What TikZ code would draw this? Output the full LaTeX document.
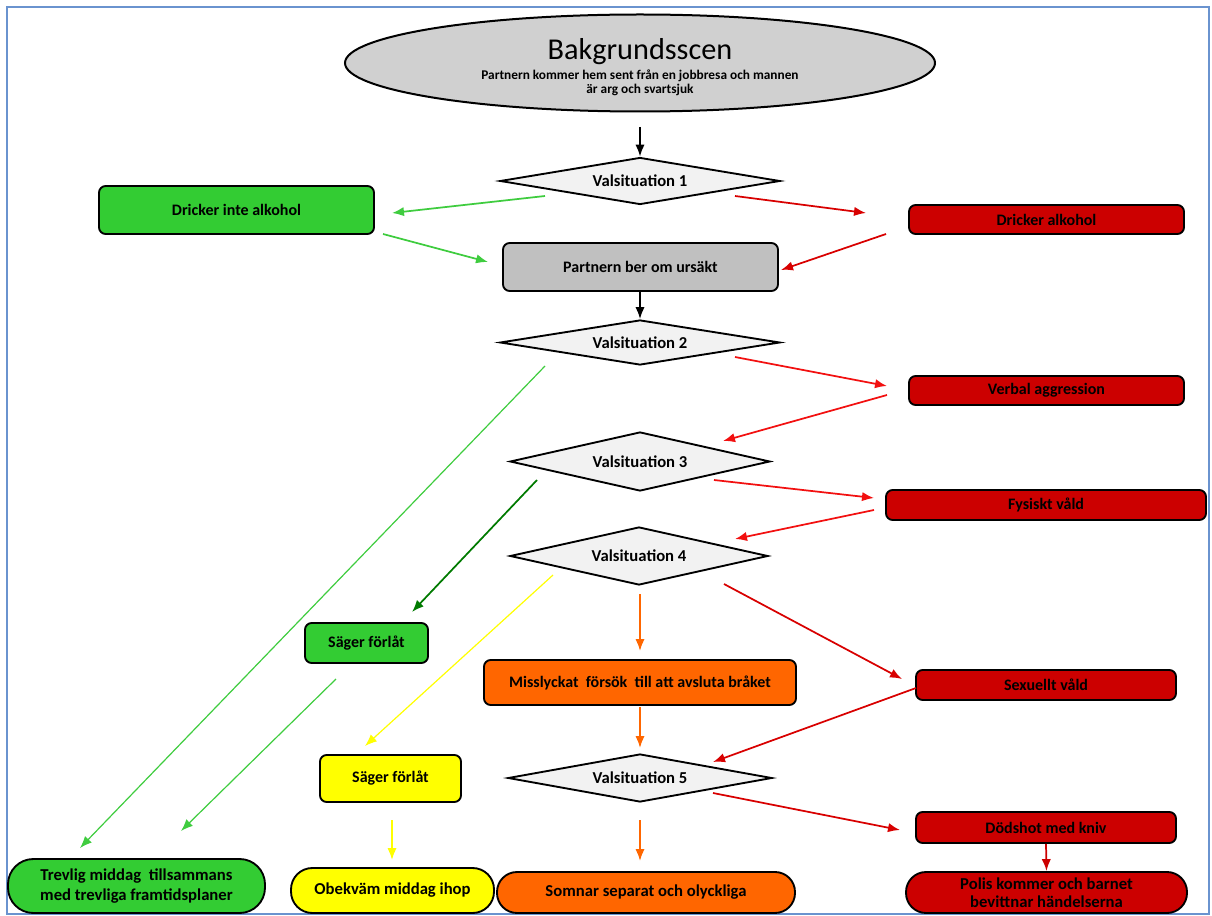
\documentclass[tikz,border=0pt]{standalone}
\usepackage{fontspec}
\setmainfont{Carlito}
\usetikzlibrary{shapes.geometric,arrows.meta}
\definecolor{gr}{HTML}{33CC33}
\definecolor{lgr}{HTML}{3FCC3F}
\definecolor{dgr}{HTML}{007A00}
\definecolor{rd}{HTML}{CC0000}
\definecolor{rda}{HTML}{D80000}
\definecolor{rdb}{HTML}{F21010}
\definecolor{org}{HTML}{FF6600}
\definecolor{yl}{HTML}{FFFF00}
\definecolor{frm}{HTML}{6A93CF}
\definecolor{dia}{HTML}{F2F2F2}
\definecolor{bgc}{HTML}{D0D0D0}
\definecolor{gbox}{HTML}{C0C0C0}
\tikzset{
  lbl/.style={font=\bfseries\fontsize{12}{14.5}\selectfont, align=center, text=black},
  box/.style={lbl, draw=black, line width=1.4pt, rounded corners=5pt, inner sep=0pt},
  dec/.style={lbl, font=\bfseries\fontsize{12.5}{14.5}\selectfont, shape=diamond, aspect=6, draw=black, line width=1.4pt, fill=dia, inner sep=0pt},
  term/.style={lbl, font=\bfseries\fontsize{12.5}{14.8}\selectfont, draw=black, line width=1.4pt, rounded corners=16pt, inner sep=0pt},
  arr/.style={-{Latex[length=9pt,width=7pt]}, line width=1.3pt},
  thin/.style={-{Latex[length=9pt,width=7pt]}, line width=0.9pt},
}
\begin{document}
\begin{tikzpicture}[x=0.75pt,y=-0.75pt]
\useasboundingbox (0,0) rectangle (1212,916);
\draw[frm, line width=1.6pt] (7,7) rectangle (1209,914);

% nodes
\node[ellipse, draw=black, line width=1.5pt, fill=bgc, minimum width=442.5pt, minimum height=72.75pt, inner sep=0pt] (bg) at (640,63) {};
\node[align=center, inner sep=0pt] (bgtext) at (640,67)
  {{\fontsize{22.7}{24}\selectfont Bakgrundsscen}\\[3pt]
   {\bfseries\fontsize{10}{11.3}\selectfont Partnern kommer hem sent från en jobbresa och mannen}\\[-1pt]
   {\bfseries\fontsize{10}{11.3}\selectfont är arg och svartsjuk}};
\node[dec, minimum width=210pt, minimum height=35.25pt] (d1) at (640,181) {Valsituation 1};
\node[box, fill=gr, minimum width=206.25pt, minimum height=36pt] (noalk) at (236.5,210) {Dricker inte alkohol};
\node[box, fill=rd, minimum width=206.25pt, minimum height=21.75pt] (alk) at (1046.5,219.5) {Dricker alkohol};
\node[box, fill=gbox, minimum width=206.25pt, minimum height=36pt] (ursakt) at (640.5,267) {Partnern ber om ursäkt};
\node[dec, minimum width=210pt, minimum height=33.75pt] (d2) at (640,342.5) {Valsituation 2};
\node[box, fill=rd, minimum width=206.25pt, minimum height=21.75pt] (verbal) at (1046.5,390.5) {Verbal aggression};
\node[dec, minimum width=195pt, minimum height=44.25pt] (d3) at (640,461.5) {Valsituation 3};
\node[box, fill=rd, minimum width=240pt, minimum height=22.5pt] (fysiskt) at (1046,505) {Fysiskt våld};
\node[dec, minimum width=193.5pt, minimum height=43.5pt] (d4) at (639,556) {Valsituation 4};
\node[box, fill=gr, minimum width=92.25pt, minimum height=30pt] (sagerg) at (366.5,643) {Säger förlåt};
\node[box, fill=org, minimum width=234pt, minimum height=33.75pt] (missl) at (640,682.5) {Misslyckat\ \ försök\ \ till att avsluta bråket};
\node[box, fill=rd, minimum width=195pt, minimum height=22.5pt] (sexuellt) at (1046,685) {Sexuellt våld};
\node[box, fill=yl, minimum width=105.75pt, minimum height=35.25pt] (sagery) at (390.5,778.5) {Säger förlåt};
\node[dec, minimum width=198pt, minimum height=36pt] (d5) at (640,778) {Valsituation 5};
\node[box, fill=rd, minimum width=195pt, minimum height=23.25pt] (dodshot) at (1046,827.5) {Dödshot med kniv};
\node[term, fill=gr, minimum width=192.75pt, minimum height=40.5pt, rounded corners=19pt] (tgreen) at (136.5,886) {Trevlig middag\ \ tillsammans\\med trevliga framtidsplaner};
\node[term, fill=yl, minimum width=152.25pt, minimum height=33.75pt] (tyellow) at (392.5,890.5) {Obekväm middag ihop};
\node[term, fill=org, minimum width=223.5pt, minimum height=30.75pt, rounded corners=15pt] (torange) at (646,892.5) {Somnar separat och olyckliga};
\node[term, fill=rd, minimum width=210.75pt, minimum height=30.75pt, rounded corners=15pt] (tred) at (1046.5,892.5) {Polis kommer och barnet\\[-1pt]bevittnar händelserna};

% free ends of connectors
\coordinate (a1) at (640,127);
\coordinate (a2s) at (545,196); \coordinate (a2e) at (392,213);
\coordinate (a3s) at (735,196); \coordinate (a3e) at (866,213);
\coordinate (a4s) at (383,234); \coordinate (a4e) at (488,262);
\coordinate (a5s) at (886,234); \coordinate (a5e) at (781,270);
\coordinate (a6) at (640,292);
\coordinate (a7s) at (735,357); \coordinate (a7e) at (887,386);
\coordinate (a8s) at (887,395); \coordinate (a8e) at (723,441);
\coordinate (a9s) at (714,480); \coordinate (a9e) at (874,498);
\coordinate (a10s) at (874,510); \coordinate (a10e) at (735,539);
\coordinate (a11s) at (537,480); \coordinate (a11e) at (412,612);
\coordinate (a12s) at (545,366); \coordinate (a12e) at (80,848);
\coordinate (a13s) at (336,679); \coordinate (a13e) at (181,831);
\coordinate (a14s) at (553,575); \coordinate (a14e) at (365,746);
\coordinate (a15s) at (640,594); \coordinate (a15e) at (640,651);
\coordinate (a16s) at (640,707); \coordinate (a16e) at (640,748);
\coordinate (a17s) at (724,584); \coordinate (a17e) at (902,679);
\coordinate (a18s) at (916,688); \coordinate (a18e) at (713,762);
\coordinate (a19s) at (713,793); \coordinate (a19e) at (900,830);
\coordinate (a21s) at (640,820); \coordinate (a21e) at (640,861);
\coordinate (a22s) at (392,820); \coordinate (a22e) at (392,860);

% connectors
\draw[arr, black] (a1) -- (d1.north);
\draw[arr, lgr] (a2s) -- (a2e);
\draw[arr, rda] (a3s) -- (a3e);
\draw[arr, lgr] (a4s) -- (a4e);
\draw[arr, rda] (a5s) -- (a5e);
\draw[arr, black] (a6) -- (d2.north);
\draw[arr, rdb] (a7s) -- (a7e);
\draw[arr, rdb] (a8s) -- (a8e);
\draw[arr, rdb] (a9s) -- (a9e);
\draw[arr, rdb] (a10s) -- (a10e);
\draw[arr, dgr] (a11s) -- (a11e);
\draw[thin, lgr] (a12s) -- (a12e);
\draw[thin, lgr] (a13s) -- (a13e);
\draw[thin, yl] (a14s) -- (a14e);
\draw[arr, org] (a15s) -- (a15e);
\draw[arr, org] (a16s) -- (a16e);
\draw[arr, rda] (a17s) -- (a17e);
\draw[arr, rda] (a18s) -- (a18e);
\draw[arr, rda] (a19s) -- (a19e);
\draw[arr, rd] (dodshot.south) -- (tred.north);
\draw[arr, org] (a21s) -- (a21e);
\draw[arr, yl] (a22s) -- (a22e);
\end{tikzpicture}
\end{document}
